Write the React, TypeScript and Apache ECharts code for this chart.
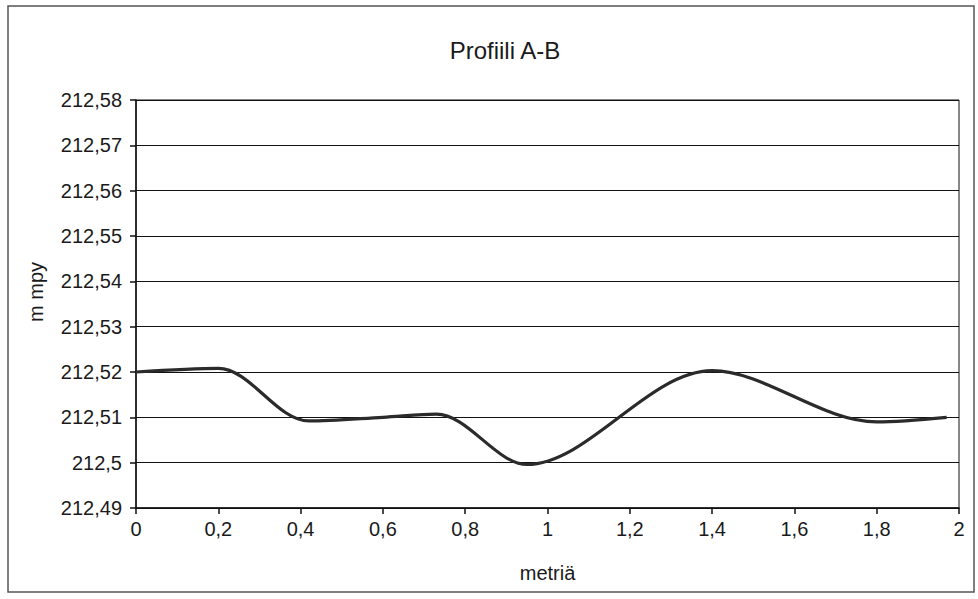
import React, { useEffect, useRef } from "react";
import * as echarts from "echarts";

const title = "Profiili A-B";
const xName = "metriä";
const yName = "m mpy";
const distances = [0, 0.2, 0.42, 0.6, 0.73, 0.95, 1.4, 1.8, 1.97];
const heights = [212.52, 212.5208, 212.5092, 212.51, 212.5107, 212.4996, 212.5203, 212.509, 212.51];

const fmt = (v: number) => String(Math.round(v * 1000) / 1000).replace(".", ",");

export default function App() {
  const ref = useRef<HTMLDivElement>(null);
  useEffect(() => {
    if (!ref.current) return;
    const chart = echarts.init(ref.current, null, { renderer: "svg" });
    const font = "'Liberation Sans', Arial, sans-serif";
    chart.setOption({
      animation: false,
      backgroundColor: "#fff",
      textStyle: { fontFamily: font },
      title: {
        text: title,
        left: 500,
        textAlign: "center",
        top: 33,
        textStyle: { fontFamily: font, fontWeight: "normal", fontSize: 24, color: "#1a1a1a" },
      },
      graphic: [
        {
          type: "rect",
          shape: { x: 8, y: 6, width: 966, height: 586 },
          style: { fill: "none", stroke: "#555", lineWidth: 1.5 },
          silent: true,
        },
        {
          type: "text",
          x: 36,
          y: 292,
          rotation: Math.PI / 2,
          style: {
            text: yName,
            fontFamily: font,
            fontSize: 20,
            fill: "#1a1a1a",
            textAlign: "center",
            textVerticalAlign: "middle",
          },
          silent: true,
        },
      ],
      grid: {
        left: 136,
        right: 19,
        top: 100,
        bottom: 91,
        show: true,
        borderColor: "#111",
        borderWidth: 1,
        backgroundColor: "transparent",
      },
      xAxis: {
        type: "value",
        min: 0,
        max: 2,
        interval: 0.2,
        name: xName,
        nameLocation: "middle",
        nameGap: 55,
        nameTextStyle: { fontFamily: font, fontSize: 20, color: "#1a1a1a" },
        axisLine: { show: true, onZero: false, lineStyle: { color: "#111", width: 1.5 } },
        axisTick: { show: true, inside: false, length: 6, lineStyle: { color: "#111", width: 1.5 } },
        axisLabel: { formatter: fmt, fontFamily: font, fontSize: 20, color: "#1a1a1a", margin: 11 },
        splitLine: { show: false },
      },
      yAxis: {
        type: "value",
        min: 212.49,
        max: 212.58,
        interval: 0.01,
        axisLine: { show: true, lineStyle: { color: "#111", width: 1.5 } },
        axisTick: { show: true, inside: false, length: 6, lineStyle: { color: "#111", width: 1.5 } },
        axisLabel: { formatter: fmt, fontFamily: font, fontSize: 20, color: "#1a1a1a", margin: 14 },
        splitLine: { show: true, lineStyle: { color: "#111", width: 1.2 } },
      },
      series: [
        {
          type: "line",
          data: distances.map((d, i) => [d, heights[i]]),
          smooth: 0.33,
          showSymbol: false,
          lineStyle: { color: "#2b2b2b", width: 3.2 },
        },
      ],
    });
    return () => chart.dispose();
  }, []);
  return <div ref={ref} style={{ width: 978, height: 599, position: "absolute", left: 0, top: 0 }} />;
}
